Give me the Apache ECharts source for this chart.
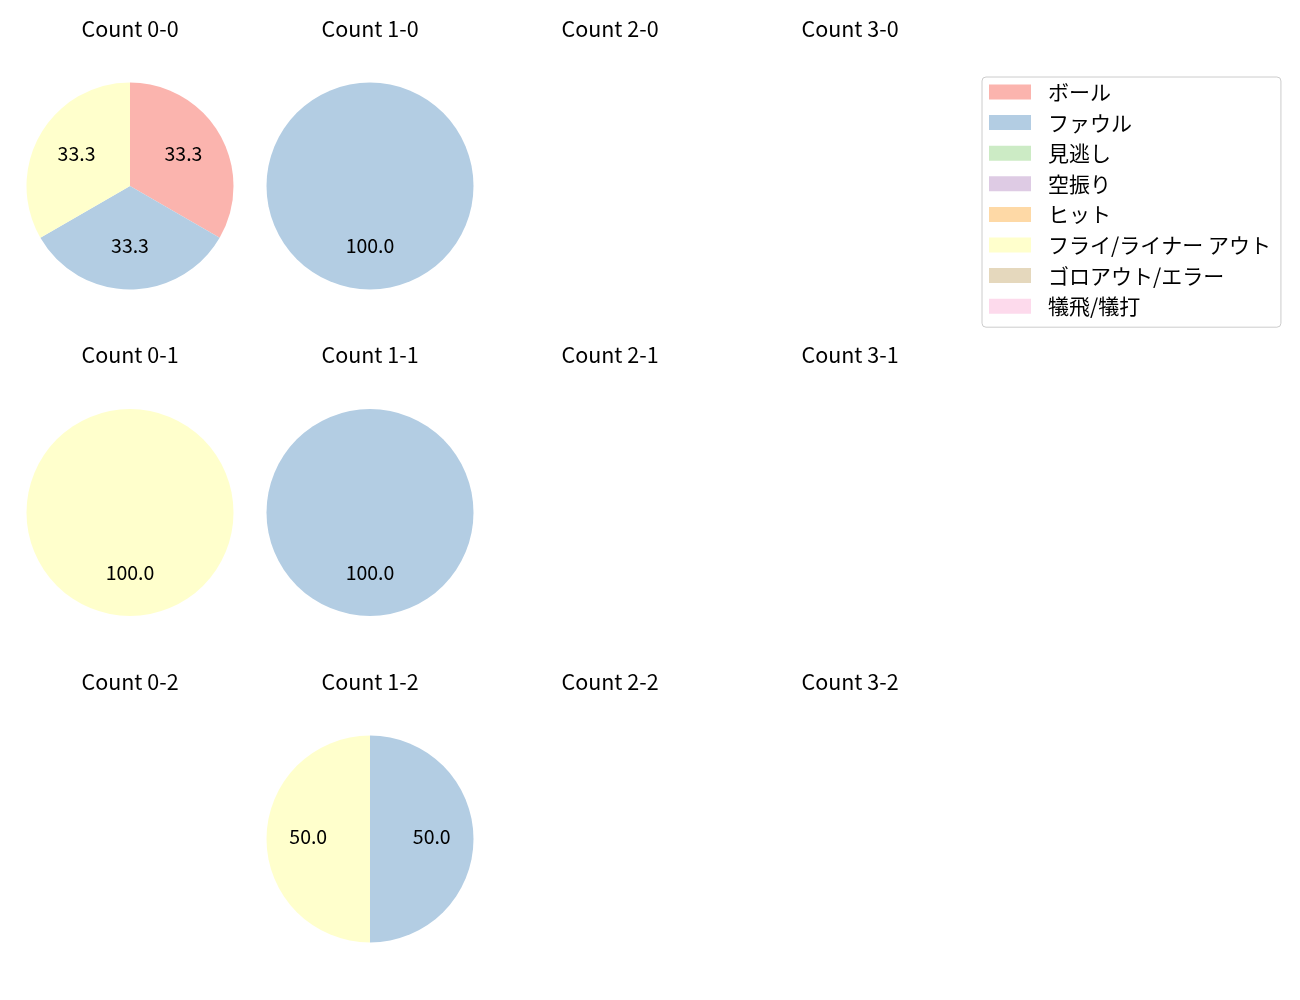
<!DOCTYPE html>
<html>
<head>
<meta charset="utf-8">
<script src="https://cdn.jsdelivr.net/npm/echarts@6/dist/echarts.min.js"></script>
<style>
  html, body { margin: 0; padding: 0; background: #fff; }
  #main { width: 1300px; height: 1000px; }
</style>
</head>
<body>
<div id="main"></div>
<script>
// 結果カテゴリ
var categories = ['ボール', 'ファウル', '見逃し', '空振り', 'ヒット', 'フライ/ライナー アウト', 'ゴロアウト/エラー', '犠飛/犠打']
var colors = ['#fbb4ae', '#b3cde3', '#ccebc5', '#decbe4', '#fed9a6', '#ffffcc', '#e5d8bd', '#fddaec']

// カウント (ボール-ストライク)
var balls = [0, 1, 2, 3]
var strikes = [0, 1, 2]

// 各カウントの件数 (categories の順)
var count00 = [1, 1, 0, 0, 0, 1, 0, 0]
var count10 = [0, 1, 0, 0, 0, 0, 0, 0]
var count01 = [0, 0, 0, 0, 0, 1, 0, 0]
var count11 = [0, 1, 0, 0, 0, 0, 0, 0]
var count12 = [0, 1, 0, 0, 0, 1, 0, 0]
var pieCounts = {
  '0-0': count00,
  '1-0': count10,
  '0-1': count01,
  '1-1': count11,
  '1-2': count12
}

var font = '"Noto Sans CJK JP", "Noto Sans", sans-serif'
var R = 103.5

var titles = []
var series = []
var labelSeries = []
strikes.forEach(function (s, row) {
  balls.forEach(function (b, col) {
    var key = b + '-' + s
    var cx = 130 + col * 240
    var cy = 186 + row * 326.5
    titles.push({
      text: 'Count ' + key,
      left: cx,
      top: cy - 168,
      textAlign: 'center',
      padding: 0,
      textStyle: { fontFamily: font, fontSize: 21.5, fontWeight: 'normal', color: '#000' }
    })
    var vals = pieCounts[key]
    if (!vals) return
    var data = categories.map(function (c, i) {
      return { name: c, value: vals[i] }
    })
    series.push({
      type: 'pie',
      center: [cx, cy],
      radius: [0, R],
      startAngle: 90,
      clockwise: true,
      silent: true,
      label: { show: false },
      labelLine: { show: false },
      itemStyle: { borderWidth: 0 },
      emphasis: { disabled: true },
      data: data
    })
    // ラベル用 (中心から約 0.6R の位置)
    labelSeries.push({
      type: 'pie',
      center: [cx, cy],
      radius: [14, R],
      startAngle: 90,
      clockwise: true,
      silent: true,
      itemStyle: { color: 'rgba(0,0,0,0)', borderWidth: 0 },
      emphasis: { disabled: true },
      labelLine: { show: false },
      label: {
        show: true,
        position: 'inside',
        offset: [0, -2],
        fontFamily: font,
        fontSize: 19.5,
        color: '#000',
        formatter: function (p) {
          return p.value > 0 ? p.percent.toFixed(1) : ''
        }
      },
      data: data
    })
  })
})

var chart = echarts.init(document.getElementById('main'), null, { renderer: 'canvas' })
var option = {
  animation: false,
  color: colors,
  title: titles,
  legend: {
    orient: 'vertical',
    left: 982,
    top: 77,
    data: categories,
    itemWidth: 42,
    itemHeight: 15,
    itemGap: 8.6,
    icon: 'rect',
    padding: [4, 10, 10, 7],
    borderColor: '#cccccc',
    borderWidth: 1,
    borderRadius: 4,
    selectedMode: false,
    textStyle: {
      fontFamily: font,
      fontSize: 21,
      lineHeight: 22,
      color: '#000',
      padding: [0, 0, 0, 12]
    }
  },
  series: series.concat(labelSeries)
}
chart.setOption(option)
</script>
</body>
</html>
